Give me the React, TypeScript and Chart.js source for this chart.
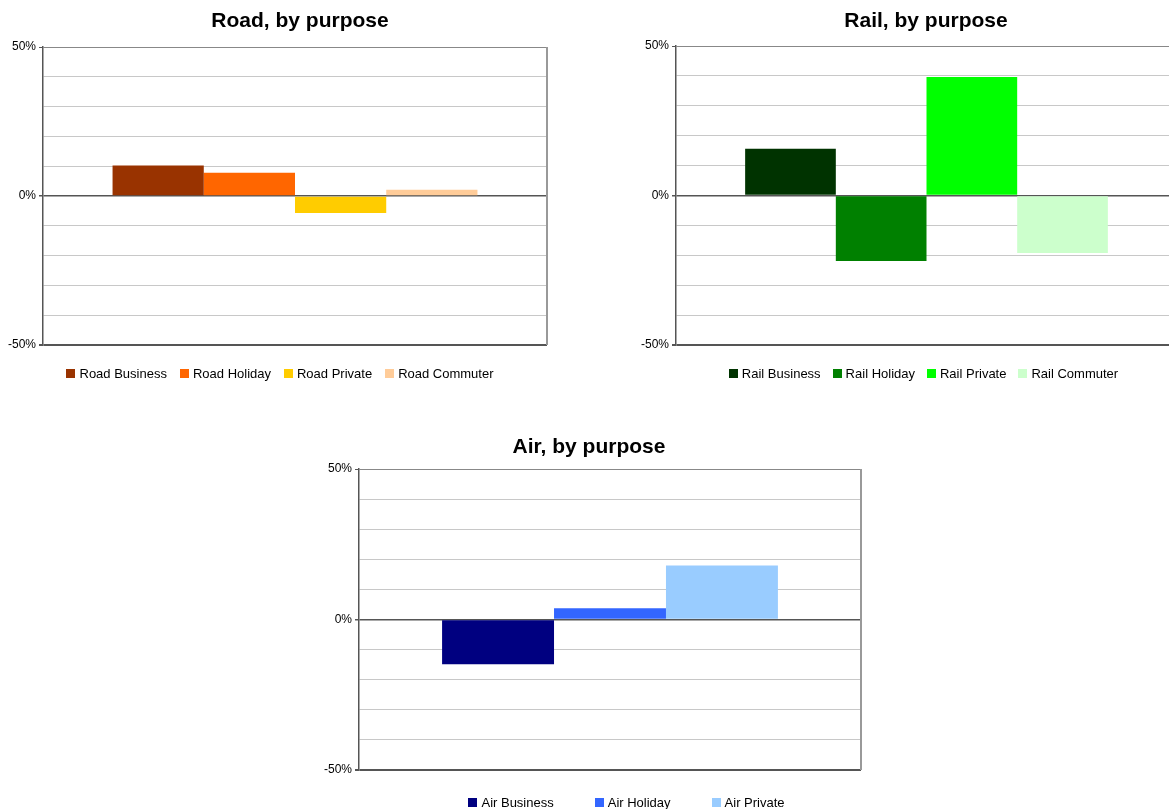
import React, { useEffect, useRef } from 'react';
import { Chart, registerables } from 'chart.js';

Chart.register(...registerables);

const FONT = '"Liberation Sans", Arial, Helvetica, sans-serif';

// Road
const roadSeries = ['Road Business', 'Road Holiday', 'Road Private', 'Road Commuter'];
const roadValues = [10.2, 7.8, -5.7, 2.1];
const roadColors = ['#993300', '#FF6600', '#FFCC00', '#FFCC99'];

// Rail
const railSeries = ['Rail Business', 'Rail Holiday', 'Rail Private', 'Rail Commuter'];
const railValues = [15.6, -21.9, 39.6, -19.2];
const railColors = ['#003300', '#008000', '#00FF00', '#CCFFCC'];

// Air
const airSeries = ['Air Business', 'Air Holiday', 'Air Private'];
const airValues = [-14.9, 3.7, 17.9];
const airColors = ['#000080', '#3366FF', '#99CCFF'];

// Shared value axis
const axisMin = -50;
const axisMax = 50;
const gridStep = 10;
const labelledTicks = [-50, 0, 50];

type Box = { left: number; top: number; width: number; height: number };
type Pad = { left: number; top: number; right: number; bottom: number };
type Pt = { x: number; y: number };

interface PanelProps {
  title: string;
  series: string[];
  values: number[];
  colors: string[];
  box: Box;
  pad: Pad;
  titlePos: Pt;
  legendPos: Pt;
  legendGap: number;
  groupPercent: number;
}

function Panel(props: PanelProps) {
  const ref = useRef<HTMLCanvasElement | null>(null);

  useEffect(() => {
    const canvas = ref.current;
    if (!canvas) return;
    const { title, series, values, colors, pad, titlePos, legendPos, legendGap, groupPercent } = props;

    const titlePlugin = {
      id: 'panelTitle',
      afterDraw(chart: any) {
        const ctx = chart.ctx;
        ctx.save();
        ctx.font = `bold 21px ${FONT}`;
        ctx.fillStyle = '#000';
        ctx.textAlign = 'center';
        ctx.textBaseline = 'middle';
        ctx.fillText(title, titlePos.x, titlePos.y);
        ctx.restore();
      },
    };

    const legendPlugin = {
      id: 'panelLegend',
      afterDraw(chart: any) {
        const ctx = chart.ctx;
        const boxSize = 9;
        const textGap = 4;
        ctx.save();
        ctx.font = `13px ${FONT}`;
        ctx.textBaseline = 'middle';
        ctx.textAlign = 'left';
        const sets = chart.data.datasets;
        const widths = sets.map((d: any) => boxSize + textGap + ctx.measureText(d.label).width);
        const total = widths.reduce((a: number, b: number) => a + b, 0) + legendGap * (sets.length - 1);
        let x = legendPos.x - total / 2;
        sets.forEach((d: any, i: number) => {
          ctx.fillStyle = d.backgroundColor;
          ctx.fillRect(Math.round(x), Math.round(legendPos.y - boxSize / 2), boxSize, boxSize);
          ctx.fillStyle = '#000';
          ctx.fillText(d.label, x + boxSize + textGap, legendPos.y + 1);
          x += widths[i] + legendGap;
        });
        ctx.restore();
      },
    };

    const framePlugin = {
      id: 'panelFrame',
      beforeDatasetsDraw(chart: any) {
        const { ctx, chartArea } = chart;
        ctx.save();
        ctx.strokeStyle = '#999';
        ctx.lineWidth = 2;
        ctx.beginPath();
        ctx.moveTo(chartArea.right, chartArea.top);
        ctx.lineTo(chartArea.right, chartArea.bottom);
        ctx.stroke();
        ctx.restore();
      },
    };

    const gridColor = (c: any) => {
      const v = c.tick ? c.tick.value : null;
      if (v === 0 || v === axisMin) return '#555';
      if (v === axisMax) return '#888';
      return '#c8c8c8';
    };
    const gridWidth = (c: any) => {
      const v = c.tick ? c.tick.value : null;
      if (v === axisMin) return 2;
      if (v === 0) return 1.5;
      return 1;
    };
    const tickColor = (c: any) => {
      const v = c.tick ? c.tick.value : null;
      return labelledTicks.includes(v) ? '#555' : 'rgba(0,0,0,0)';
    };

    const chart = new Chart(canvas, {
      type: 'bar',
      data: {
        labels: [''],
        datasets: series.map((s, i) => ({
          label: s,
          data: [values[i]],
          backgroundColor: colors[i],
          borderWidth: 0,
          categoryPercentage: groupPercent,
          barPercentage: 1,
        })),
      },
      options: {
        responsive: false,
        animation: false,
        devicePixelRatio: 1,
        layout: { padding: pad },
        plugins: {
          legend: { display: false },
          title: { display: false },
          tooltip: { enabled: false },
        },
        scales: {
          x: { display: false, offset: true },
          y: {
            min: axisMin,
            max: axisMax,
            afterFit: (s: any) => {
              s.width = 43;
            },
            border: { display: true, color: '#555', width: 1.5 },
            grid: {
              color: gridColor,
              lineWidth: gridWidth,
              drawTicks: true,
              tickLength: 4,
              tickColor: tickColor,
            },
            ticks: {
              stepSize: gridStep,
              padding: 3,
              color: '#000',
              font: { family: FONT, size: 12 },
              callback: (v: any) => (labelledTicks.includes(Number(v)) ? `${v}%` : ''),
            },
          },
        },
      } as any,
      plugins: [framePlugin, titlePlugin, legendPlugin],
    });

    return () => chart.destroy();
  }, []);

  const { box } = props;
  return (
    <canvas
      ref={ref}
      width={box.width}
      height={box.height}
      style={{ position: 'absolute', left: box.left, top: box.top, width: box.width, height: box.height }}
    />
  );
}

export default function App() {
  return (
    <div
      style={{
        position: 'fixed',
        left: 0,
        top: 0,
        width: 1169,
        height: 809,
        overflow: 'hidden',
        background: '#fff',
      }}
    >
      <Panel
        title="Road, by purpose"
        series={roadSeries}
        values={roadValues}
        colors={roadColors}
        box={{ left: 0, top: 0, width: 560, height: 390 }}
        pad={{ left: 0, top: 47, right: 13, bottom: 45 }}
        titlePos={{ x: 300, y: 21 }}
        legendPos={{ x: 280, y: 373 }}
        legendGap={13}
        groupPercent={0.724}
      />
      <Panel
        title="Rail, by purpose"
        series={railSeries}
        values={railValues}
        colors={railColors}
        box={{ left: 620, top: 0, width: 607, height: 390 }}
        pad={{ left: 13, top: 46, right: 50, bottom: 45 }}
        titlePos={{ x: 306, y: 21 }}
        legendPos={{ x: 303.5, y: 373 }}
        legendGap={12}
        groupPercent={0.724}
      />
      <Panel
        title="Air, by purpose"
        series={airSeries}
        values={airValues}
        colors={airColors}
        box={{ left: 300, top: 430, width: 600, height: 379 }}
        pad={{ left: 16, top: 39, right: 39, bottom: 39 }}
        titlePos={{ x: 289, y: 17 }}
        legendPos={{ x: 326.5, y: 372.5 }}
        legendGap={41}
        groupPercent={0.669}
      />
    </div>
  );
}
